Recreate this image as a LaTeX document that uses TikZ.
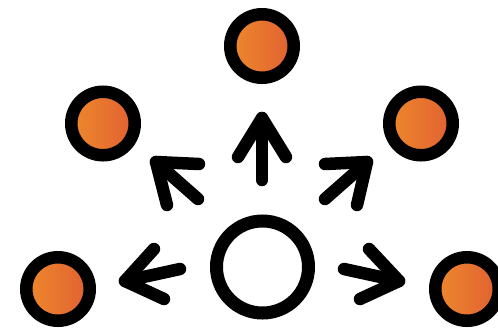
\documentclass[tikz,border=0pt]{standalone}
\begin{document}
\begin{tikzpicture}[x=1pt,y=-1pt,
  dot/.style={circle, draw=black, line width=12.5pt, minimum size=63.5pt, inner sep=0pt,
    left color=orL, right color=orR},
  hub/.style={circle, draw=black, line width=13pt, minimum size=92pt, inner sep=0pt, fill=white},
  arr/.style={draw=black, line width=12.5pt, line cap=round, line join=round}]
\definecolor{orL}{RGB}{238,136,44}
\definecolor{orR}{RGB}{224,96,50}
\useasboundingbox (0,0) rectangle (498,333);
\clip (0,0) rectangle (498,333);
\node[dot] (top) at (262,46) {};
\node[dot] (ul) at (103,123.5) {};
\node[dot] (ur) at (421,123.5) {};
\node[dot] (bl) at (58,289) {};
\node[dot] (br) at (467,289) {};
\node[hub] (c) at (262.5,267) {};
% up arrow
\coordinate (s1) at (262,180); \coordinate (t1) at (262,118);
\coordinate (a1) at (238,157); \coordinate (b1) at (286,157);
% upper-left
\coordinate (s2) at (198,199); \coordinate (t2) at (156,162);
\coordinate (a2) at (199,164); \coordinate (b2) at (167,205);
% upper-right
\coordinate (s3) at (325,199); \coordinate (t3) at (367,162);
\coordinate (a3) at (325,164); \coordinate (b3) at (357,205);
% left
\coordinate (s4) at (180,269); \coordinate (t4) at (125,281);
\coordinate (a4) at (154,249); \coordinate (b4) at (164,299);
% right
\coordinate (s5) at (344,269); \coordinate (t5) at (399,281);
\coordinate (a5) at (369,249); \coordinate (b5) at (360,299);
\foreach \i in {1,...,5}{
  \draw[arr] (s\i) -- (t\i);
  \draw[arr] (a\i) -- (t\i) -- (b\i);
}
\end{tikzpicture}
\end{document}
